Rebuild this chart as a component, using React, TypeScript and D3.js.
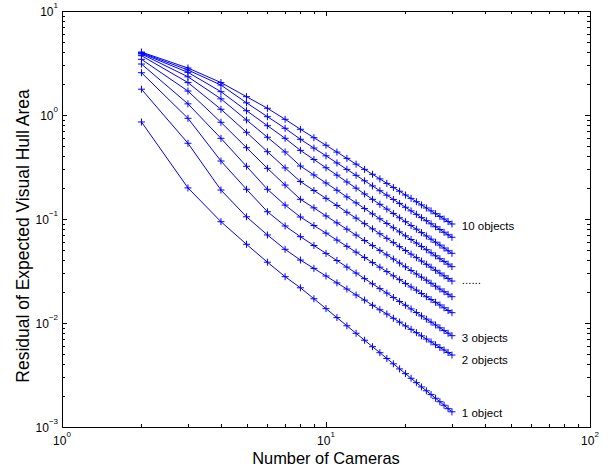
import React from "react";
import * as d3 from "d3";

const cameras = [2, 3, 4, 5, 6, 7, 8, 9, 10, 11, 12, 13, 14, 15, 16, 17, 18, 19, 20, 21, 22, 23, 24, 25, 26, 27, 28, 29, 30];

const objects1 = [0.857, 0.199, 0.0942, 0.0571, 0.0384, 0.0279, 0.0218, 0.0171, 0.01374, 0.01127, 0.0094, 0.00796, 0.00683, 0.00592, 0.00518, 0.00456, 0.00405, 0.00362, 0.00326, 0.00294, 0.00267, 0.00243, 0.00223, 0.00205, 0.00189, 0.00175, 0.00162, 0.0015, 0.0014];
const objects2 = [1.77, 0.535, 0.19, 0.105, 0.0702, 0.0511, 0.0403, 0.0335, 0.0283, 0.0243, 0.0212, 0.0186, 0.0166, 0.0148, 0.0134, 0.0122, 0.0111, 0.0102, 0.00938, 0.00869, 0.00807, 0.00752, 0.00701, 0.00658, 0.00618, 0.00582, 0.0055, 0.0052, 0.00492];
const objects3 = [2.55, 0.929, 0.361, 0.193, 0.1175, 0.0857, 0.0676, 0.0556, 0.0467, 0.0399, 0.0345, 0.0302, 0.0267, 0.0238, 0.0214, 0.0194, 0.0176, 0.0161, 0.0148, 0.01365, 0.0126, 0.0117, 0.0109, 0.0102, 0.00957, 0.00899, 0.00845, 0.00798, 0.00755];
const objects4 = [3.09, 1.28, 0.597, 0.321, 0.193, 0.136, 0.1045, 0.0865, 0.0731, 0.0627, 0.0546, 0.048, 0.0426, 0.0381, 0.0344, 0.0312, 0.0284, 0.0261, 0.024, 0.0222, 0.0207, 0.0192, 0.0179, 0.0168, 0.0158, 0.0149, 0.014, 0.0132, 0.01256];
const objects5 = [3.43, 1.7, 0.851, 0.485, 0.307, 0.212, 0.1546, 0.128, 0.107, 0.0918, 0.0798, 0.07, 0.0621, 0.0555, 0.0499, 0.0452, 0.0412, 0.0377, 0.0347, 0.032, 0.0296, 0.0276, 0.0258, 0.0241, 0.0226, 0.0212, 0.02, 0.0189, 0.0179];
const objects6 = [3.72, 2.05, 1.135, 0.682, 0.444, 0.31, 0.229, 0.188, 0.158, 0.135, 0.116, 0.102, 0.0902, 0.0804, 0.0721, 0.0652, 0.0593, 0.0542, 0.0498, 0.0459, 0.0425, 0.0394, 0.0367, 0.0344, 0.0321, 0.0302, 0.0284, 0.0268, 0.0253];
const objects7 = [3.86, 2.33, 1.43, 0.895, 0.611, 0.441, 0.323, 0.265, 0.222, 0.189, 0.163, 0.143, 0.126, 0.112, 0.1005, 0.0907, 0.0823, 0.0752, 0.0689, 0.0635, 0.0587, 0.0545, 0.0507, 0.0473, 0.0443, 0.0415, 0.0391, 0.0368, 0.0348];
const objects8 = [3.92, 2.57, 1.675, 1.1, 0.789, 0.597, 0.457, 0.373, 0.311, 0.264, 0.227, 0.198, 0.174, 0.1545, 0.1384, 0.1245, 0.1129, 0.1028, 0.0942, 0.0865, 0.0798, 0.074, 0.0687, 0.064, 0.0598, 0.0561, 0.0526, 0.0495, 0.0468];
const objects9 = [3.97, 2.71, 1.94, 1.31, 0.963, 0.745, 0.584, 0.481, 0.405, 0.346, 0.3, 0.263, 0.233, 0.208, 0.187, 0.1694, 0.1542, 0.1411, 0.1297, 0.1197, 0.1109, 0.103, 0.0962, 0.0899, 0.0843, 0.0793, 0.0746, 0.0705, 0.0667];
const objects10 = [4.03, 2.83, 2.05, 1.5, 1.16, 0.909, 0.729, 0.605, 0.512, 0.44, 0.383, 0.337, 0.3, 0.269, 0.243, 0.22, 0.201, 0.185, 0.17, 0.158, 0.1466, 0.1365, 0.1276, 0.1197, 0.1125, 0.1059, 0.1, 0.0945, 0.0895];

const seriesList = [objects1, objects2, objects3, objects4, objects5, objects6, objects7, objects8, objects9, objects10];

const curveLabels = ["10 objects", "......", "3 objects", "2 objects", "1 object"];
const curveLabelValues = [0.0857, 0.0262, 0.00722, 0.00441, 0.001355];
const curveLabelX = 32.7;

const xTickExponents = [0, 1, 2];
const yTickExponents = [-3, -2, -1, 0, 1];

const xTitle = "Number of Cameras";
const yTitle = "Residual of Expected Visual Hull Area";

const W = 608;
const H = 476;
const L = 62, R = 590, T = 11, B = 427;
const FONT = "'Liberation Sans', Arial, Helvetica, sans-serif";
const BLUE = "#0000ff";

export default function App() {
  const x = d3.scaleLog().domain([1, 100]).range([L, R]);
  const y = d3.scaleLog().domain([0.001, 10]).range([B, T]);

  const line = d3
    .line<number>()
    .x((_, i) => x(cameras[i]))
    .y((d) => y(d));

  const isMajor = (v: number) => Math.abs(Math.log10(v) - Math.round(Math.log10(v))) < 1e-9;
  const xTicks = x.ticks();
  const yTicks = y.ticks();
  const majLen = 5;
  const minLen = 3;

  const sup = (e: number) => (e < 0 ? "\u2212" + Math.abs(e) : String(e));

  return (
    <svg
      width={W}
      height={H}
      viewBox={`0 0 ${W} ${H}`}
      style={{ position: "absolute", left: 0, top: 0, background: "#fff" }}
      fontFamily={FONT}
    >
      <rect x={0} y={0} width={W} height={H} fill="#fff" />
      <defs>
        <clipPath id="plotclip">
          <rect x={L} y={T} width={R - L} height={B - T} />
        </clipPath>
      </defs>
      {/* series */}
      <g clipPath="url(#plotclip)">
        {seriesList.map((s, si) => (
          <g key={si}>
            <path d={line(s) || ""} fill="none" stroke={BLUE} strokeWidth={1} />
            {s.map((v, i) => {
              const cx = x(cameras[i]);
              const cy = y(v);
              return (
                <path
                  key={i}
                  d={`M${cx - 3.5},${cy}H${cx + 3.5}M${cx},${cy - 3.5}V${cy + 3.5}`}
                  stroke={BLUE}
                  strokeWidth={1}
                  fill="none"
                />
              );
            })}
          </g>
        ))}
      </g>
      {/* ticks */}
      <g stroke="#000" strokeWidth={1} shapeRendering="crispEdges">
        {xTicks.map((t, i) => {
          const px = Math.round(x(t)) + 0.5;
          const len = isMajor(t) ? majLen : minLen;
          return (
            <g key={"xt" + i}>
              <line x1={px} x2={px} y1={B} y2={B - len} />
              <line x1={px} x2={px} y1={T} y2={T + len} />
            </g>
          );
        })}
        {yTicks.map((t, i) => {
          const py = Math.round(y(t)) + 0.5;
          const len = isMajor(t) ? majLen : minLen;
          return (
            <g key={"yt" + i}>
              <line x1={L} x2={L + len} y1={py} y2={py} />
              <line x1={R} x2={R - len} y1={py} y2={py} />
            </g>
          );
        })}
        <rect x={L + 0.5} y={T + 0.5} width={R - L} height={B - T} fill="none" />
      </g>
      {/* x tick labels */}
      {xTickExponents.map((e) => (
        <text key={"xl" + e} x={x(Math.pow(10, e))} y={445} textAnchor="middle" fontSize={12} fill="#000">
          10
          <tspan fontSize={8} dy={-8}>
            {sup(e)}
          </tspan>
        </text>
      ))}
      {/* y tick labels */}
      {yTickExponents.map((e) => (
        <text key={"yl" + e} x={58} y={y(Math.pow(10, e)) + 5} textAnchor="end" fontSize={12} fill="#000">
          10
          <tspan fontSize={8} dy={-8}>
            {sup(e)}
          </tspan>
        </text>
      ))}
      {/* curve labels */}
      {curveLabels.map((lab, i) => (
        <text
          key={"cl" + i}
          x={x(curveLabelX)}
          y={y(curveLabelValues[i])}
          dy="0.35em"
          fontSize={11.5}
          fill="#000"
        >
          {lab}
        </text>
      ))}
      {/* axis titles */}
      <text x={(L + R) / 2} y={464} textAnchor="middle" fontSize={16.4} fill="#000">
        {xTitle}
      </text>
      <text
        transform={`translate(29, 236) rotate(-90)`}
        textAnchor="middle"
        fontSize={17.5}
        fill="#000"
      >
        {yTitle}
      </text>
    </svg>
  );
}
